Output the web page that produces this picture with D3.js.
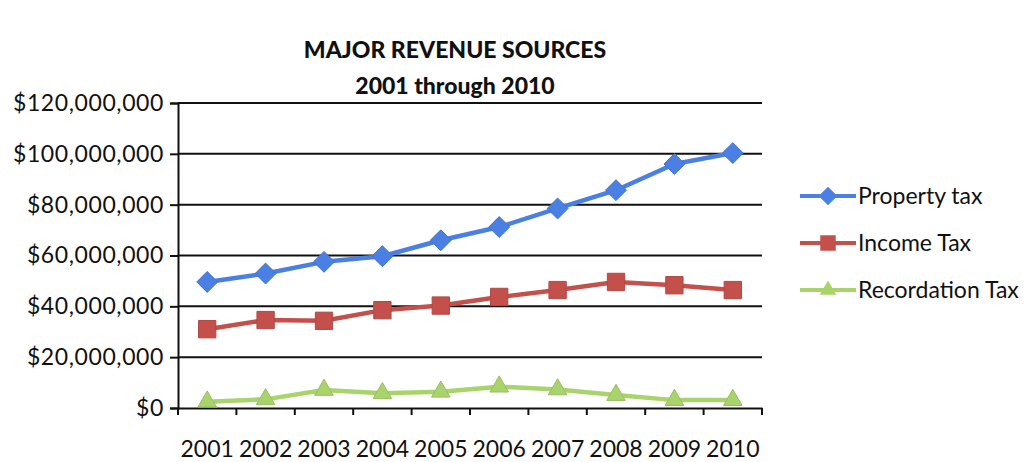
<!DOCTYPE html>
<html><head><meta charset="utf-8">
<script src="https://cdn.jsdelivr.net/npm/d3@7/dist/d3.min.js"></script>
<style>body{margin:0;background:#fff}svg{display:block}</style>
</head><body><svg id="c" width="1034" height="462"></svg>
<script>
const years = ["2001","2002","2003","2004","2005","2006","2007","2008","2009","2010"];
const propertyTax = [49600000,52900000,57500000,59700000,66000000,71200000,78500000,85700000,96000000,100300000];
const incomeTax = [31000000,34600000,34300000,38500000,40300000,43700000,46400000,49600000,48300000,46400000];
const recordationTax = [2500000,3400000,7100000,5800000,6400000,8400000,7300000,5100000,3100000,3100000];
const yTicks = [0,20000000,40000000,60000000,80000000,100000000,120000000];
const seriesNames = ["Property tax","Income Tax","Recordation Tax"];
const titleLines = ["MAJOR REVENUE SOURCES","2001 through 2010"];

const svg = d3.select("#c");
const font = "Lato, 'Open Sans', sans-serif";
const L = 178, R = 762, T = 103, B = 408;
const x = d3.scaleBand().domain(years).range([L, R]);
const y = d3.scaleLinear().domain([0,120000000]).range([B, T]);

svg.selectAll("text.title").data(titleLines).enter().append("text")
  .attr("x", 455).attr("y", (d,i)=>58+i*36).attr("text-anchor","middle")
  .attr("font-family", font).attr("font-weight",900).attr("font-size", 23)
  .attr("fill","#111").text(d=>d);

// gridlines
svg.append("g").selectAll("line").data(yTicks.slice(1)).enter().append("line")
  .attr("x1", L).attr("x2", R).attr("y1", d=>y(d)).attr("y2", d=>y(d))
  .attr("stroke","#111").attr("stroke-width",2);

const fmt = d => "$" + d3.format(",")(d);
const yAxis = svg.append("g").attr("transform",`translate(${L},0)`)
  .call(d3.axisLeft(y).tickValues(yTicks).tickFormat(fmt).tickSize(8).tickPadding(6));
yAxis.select(".domain").attr("stroke","#111").attr("stroke-width",2);
yAxis.selectAll(".tick line").attr("stroke","#111").attr("stroke-width",2);
yAxis.selectAll("text").attr("font-family",font).attr("font-size",23)
  .attr("letter-spacing","0.6px").attr("fill","#111");

const xAxis = svg.append("g").attr("transform",`translate(0,${B})`)
  .call(d3.axisBottom(x).tickSize(0).tickPadding(33));
xAxis.select(".domain").attr("stroke","#111").attr("stroke-width",2);
xAxis.selectAll("text").attr("font-family",font).attr("font-size",23).attr("fill","#111");
const bounds = years.map(d=>x(d)).concat([R]);
xAxis.selectAll("line.bt").data(bounds).enter().append("line").attr("class","bt")
  .attr("x1",d=>d).attr("x2",d=>d).attr("y1",0).attr("y2",7)
  .attr("stroke","#111").attr("stroke-width",2);

const diamond = {draw(ctx, size){ const r = Math.sqrt(size)/1.42; ctx.moveTo(0,-r); ctx.lineTo(r,0); ctx.lineTo(0,r); ctx.lineTo(-r,0); ctx.closePath(); }};
const series = [
  {name: seriesNames[0], values: propertyTax, color:"#4a7fe3", marker: diamond, size: 220},
  {name: seriesNames[1], values: incomeTax, color:"#c4504c", marker: d3.symbolSquare, size: 300},
  {name: seriesNames[2], values: recordationTax, color:"#a9d46b", marker: d3.symbolTriangle, size: 150}
];
const cx = d => x(d) + x.bandwidth()/2;
const line = d3.line().x((d,i)=>cx(years[i])).y(d=>y(d));

series.forEach(s=>{
  svg.append("path").datum(s.values).attr("d", line).attr("fill","none")
    .attr("stroke", s.color).attr("stroke-width",4.5).attr("stroke-linejoin","round");
  svg.append("g").selectAll("path").data(s.values).enter().append("path")
    .attr("d", d3.symbol().type(s.marker).size(s.size))
    .attr("transform",(d,i)=>`translate(${cx(years[i])},${y(d)})`)
    .attr("fill", s.color).attr("stroke", d3.color(s.color).darker(0.3)).attr("stroke-width",1);
});

// legend
const lg = svg.append("g");
series.forEach((s,i)=>{
  const ly = 196 + i*47;
  lg.append("line").attr("x1",800).attr("x2",856).attr("y1",ly).attr("y2",ly)
    .attr("stroke",s.color).attr("stroke-width",4);
  lg.append("path").attr("d", d3.symbol().type(s.marker).size(s.size*0.8))
    .attr("transform",`translate(828,${ly})`).attr("fill",s.color);
  lg.append("text").attr("x",858).attr("y",ly+8).attr("font-family",font)
    .attr("font-size",23).attr("fill","#111").text(s.name);
});
</script></body></html>
